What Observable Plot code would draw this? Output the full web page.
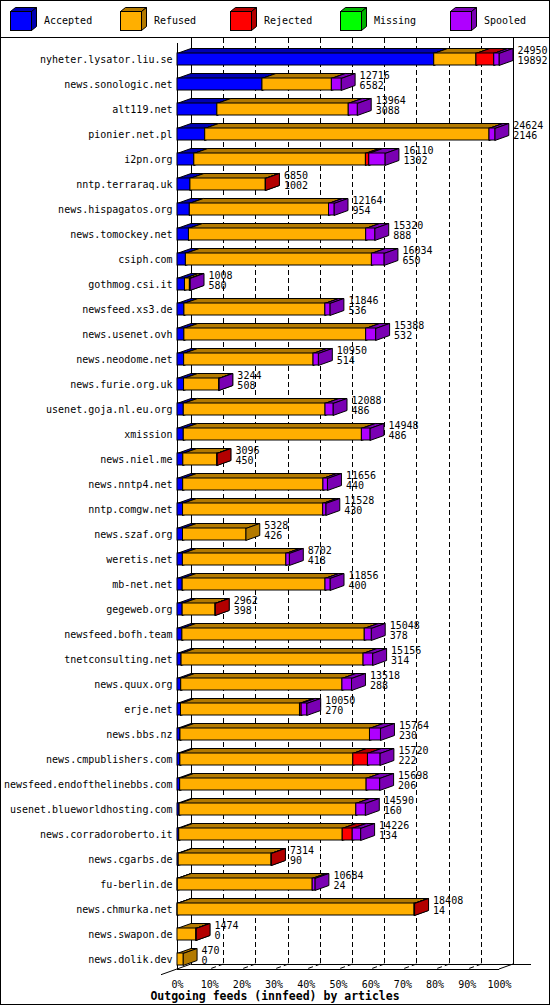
<!DOCTYPE html>
<html><head><meta charset="utf-8">
<script src="https://cdn.jsdelivr.net/npm/d3@7"></script>
<script src="https://cdn.jsdelivr.net/npm/@observablehq/plot@0.6"></script>
<style>
body{margin:0;background:#fff;}
#wrap{position:relative;width:550px;height:1005px;background:#fff;overflow:hidden;font-family:'DejaVu Sans Mono',monospace;color:#000;}
#border{position:absolute;left:0;top:0;width:550px;height:1005px;box-sizing:border-box;border:1px solid #000;pointer-events:none;}
#legend{position:absolute;left:0;top:0;width:550px;height:37px;border-bottom:1px solid #000;}
.item{position:absolute;top:0;height:37px;width:110px;}
.item svg{position:absolute;left:0;top:0;}
.item span{position:absolute;left:34px;top:15px;font-size:10px;line-height:12px;white-space:nowrap;}
#chart{position:absolute;left:0;top:38px;}
#title{position:absolute;left:0;top:989px;width:550px;text-align:center;font-weight:bold;font-size:11.5px;line-height:14px;}
</style></head>
<body>
<div id="wrap">
  <div id="legend"></div>
  <div id="chart"></div>
  <div id="title">Outgoing feeds (innfeed) by articles</div>
  <div id="border"></div>
</div>
<script>
const servers = ["nyheter.lysator.liu.se","news.sonologic.net","alt119.net","pionier.net.pl","i2pn.org","nntp.terraraq.uk","news.hispagatos.org","news.tomockey.net","csiph.com","gothmog.csi.it","newsfeed.xs3.de","news.usenet.ovh","news.neodome.net","news.furie.org.uk","usenet.goja.nl.eu.org","xmission","news.niel.me","news.nntp4.net","nntp.comgw.net","news.szaf.org","weretis.net","mb-net.net","gegeweb.org","newsfeed.bofh.team","tnetconsulting.net","news.quux.org","erje.net","news.bbs.nz","news.cmpublishers.com","newsfeed.endofthelinebbs.com","usenet.blueworldhosting.com","news.corradoroberto.it","news.cgarbs.de","fu-berlin.de","news.chmurka.net","news.swapon.de","news.dolik.dev"];
const totals   = [24950,12716,13964,24624,16110,6850,12164,15320,16034,1008,11846,15388,10950,3244,12088,14948,3096,11656,11528,5328,8702,11856,2962,15048,15156,13518,10050,15764,15720,15698,14590,14226,7314,10684,18408,1474,470];
const accepted = [19892,6582,3088,2146,1302,1002,954,888,650,580,536,532,514,508,486,486,450,440,430,426,418,400,398,378,314,288,270,230,222,206,160,134,90,24,14,0,0];
const refused  = [3270,5380,10180,22028,13297,5836,10785,13732,14414,380,10920,14086,10026,2716,10982,13802,2626,10866,10858,4902,8014,11066,2544,14130,14102,12490,9220,14684,13400,14447,13695,12667,7194,10450,18354,1454,470];
const rejected = [1380,0,0,0,260,12,0,0,0,0,0,0,0,0,0,0,20,0,0,0,0,0,20,0,0,0,130,0,1135,0,0,775,30,0,40,20,0];
const missing  = [0,0,0,0,0,0,0,0,0,0,0,0,0,0,0,0,0,0,0,0,0,0,0,0,0,0,0,0,0,0,0,0,0,0,0,0,0];
const spooled  = [408,754,696,450,1251,0,425,700,970,48,390,770,410,20,620,660,0,350,240,0,270,390,0,540,740,740,430,850,963,1045,735,650,0,210,0,0,0];
const statuses = ["Accepted","Refused","Rejected","Missing","Spooled"];
const colors   = ["#0000ff","#ffaf00","#ff0000","#00ff00","#af00ff"];
const darks    = ["#0000b3","#b37a00","#b30000","#00b300","#7a00b3"];
const tickPct  = [0,10,20,30,40,50,60,70,80,90,100];

// legend
const legend = document.getElementById("legend");
statuses.forEach((s, k) => {
  const L = 10 + 110 * k;
  const it = document.createElement("div");
  it.className = "item";
  it.style.left = L + "px";
  it.innerHTML = `<svg width="40" height="37"><polygon points="0.5,11.5 21.5,11.5 26.5,7.5 5.5,7.5" fill="${darks[k]}" stroke="#000"/>` +
    `<polygon points="21.5,11.5 26.5,7.5 26.5,26.5 21.5,30.5" fill="${darks[k]}" stroke="#000"/>` +
    `<rect x="0.5" y="11.5" width="21" height="19" fill="${colors[k]}" stroke="#000"/></svg><span>${s}</span>`;
  legend.appendChild(it);
});

const maxTotal = d3.max(totals);
const rows = servers.map((s, i) => ({server: s, total: totals[i], accepted: accepted[i]}));
const seriesArr = [accepted, refused, rejected, missing, spooled];
const segs = [];
servers.forEach((s, i) => {
  let c = 0;
  seriesArr.forEach((arr, k) => {
    const v = arr[i];
    if (v > 0) segs.push({server: s, status: statuses[k], k, x1: c, x2: c + v});
    c += v;
  });
});

const D = 14, E = 5;
function depth(index, scales, values, dims) {
  const x = scales.x, y = scales.y, bw = y.bandwidth();
  const g = d3.create("svg:g");
  const x0 = x(0), xm = x(maxTotal);
  const front = dims.height - dims.marginBottom;
  const back = front - E;
  const line = (a, b, dash) => {
    const l = g.append("line").attr("x1", a[0]).attr("y1", a[1]).attr("x2", b[0]).attr("y2", b[1]).attr("stroke", "#000");
    if (dash) l.attr("stroke-dasharray", "5,3");
  };
  tickPct.slice(1, -1).forEach(p => {
    const X = Math.round(x(p / 100 * maxTotal) + D) + 0.5;
    line([X, 0], [X, back], true);
    line([X, back], [X - D, front], true);
  });
  line([Math.round(x0 + D) + 0.5, 0], [Math.round(x0 + D) + 0.5, back]);
  line([Math.round(xm + D) + 0.5, 0], [Math.round(xm + D) + 0.5, back]);
  line([x0 + D, back + 0.5], [xm + D + 18, back + 0.5]);
  line([x0, front + 0.5], [xm, front + 0.5]);
  line([x0 - 16, front + 5.7], [x0 + D, back]);
  line([xm, front], [xm + D, back]);
  line([Math.round(x0) + 0.5, E], [Math.round(x0) + 0.5, front]);
  const poly = (pts, fill) => g.append("polygon").attr("points", pts.map(p => p.join(",")).join(" "))
    .attr("fill", fill).attr("stroke", "#000").attr("stroke-linejoin", "miter");
  segs.forEach(d => {
    const a = x(d.x1), b = x(d.x2), t = y(d.server) + 0.5, u = t + bw;
    poly([[a, t], [b, t], [b + D, t - E], [a + D, t - E]], darks[d.k]);
    poly([[b, t], [b + D, t - E], [b + D, u - E], [b, u]], darks[d.k]);
  });
  return g.node();
}

const chart = Plot.plot({
  width: 550,
  height: 952,
  marginLeft: 177,
  marginRight: 51,
  marginTop: 9,
  marginBottom: 21,
  style: {fontFamily: "'DejaVu Sans Mono', monospace", fontSize: "10px", background: "transparent", overflow: "visible", color: "#000"},
  x: {domain: [0, maxTotal], range: [177, 499], ticks: tickPct.map(p => p / 100 * maxTotal),
      tickFormat: d => Math.round(d / maxTotal * 100) + "%", tickSize: 0, tickPadding: 11, label: null},
  y: {domain: servers, range: [8.8, 933.8], paddingInner: 0.52, paddingOuter: 0.26, tickSize: 0, tickPadding: 5, label: null},
  color: {domain: statuses, range: colors},
  marks: [
    depth,
    Plot.barX(segs, {x1: "x1", x2: "x2", y: "server", fill: "status", stroke: "#000", strokeWidth: 1}),
    Plot.text(rows, {x: "total", y: "server", text: d => String(d.total), dx: 18, dy: -9, textAnchor: "start", fill: "#000"}),
    Plot.text(rows, {x: "total", y: "server", text: d => String(d.accepted), dx: 18, dy: 1.5, textAnchor: "start", fill: "#000"})
  ]
});
document.getElementById("chart").appendChild(chart);
</script>
</body></html>
